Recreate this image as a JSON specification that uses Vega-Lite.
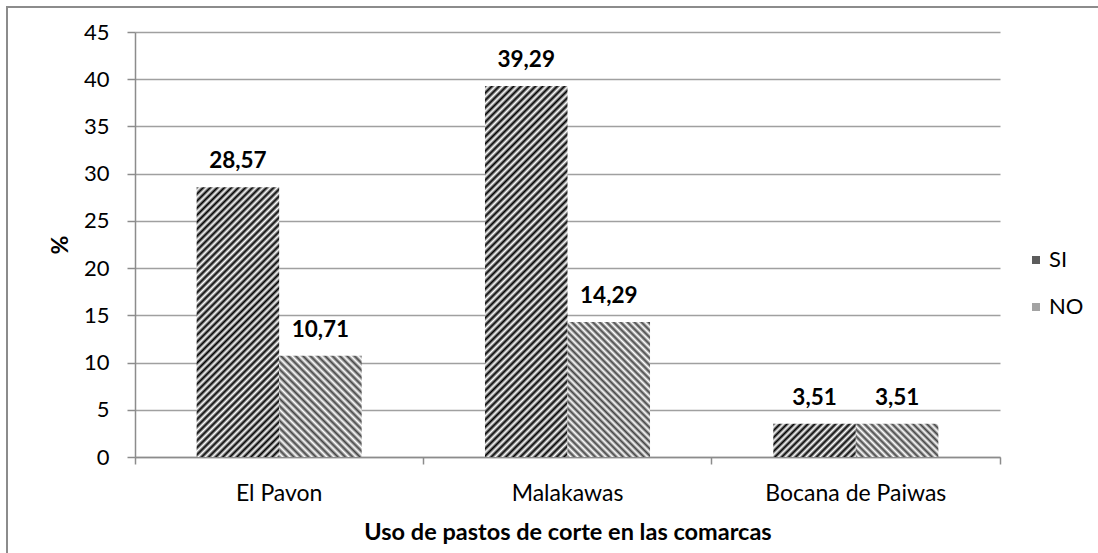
{
  "$schema": "https://vega.github.io/schema/vega-lite/v6.json",
  "width": 1092,
  "height": 547,
  "autosize": "none",
  "padding": {"left": 7, "top": 7, "right": 0, "bottom": 0},
  "background": "white",
  "config": {
    "font": "Lato",
    "locale": {"number": {"decimal": ",", "thousands": ".", "grouping": [3], "currency": ["", " €"]}},
    "view": {"stroke": "#8c8c8c", "strokeWidth": 2}
  },
  "data": {
    "values": [
      {"comarca": "El Pavon", "serie": "SI", "value": 28.57},
      {"comarca": "El Pavon", "serie": "NO", "value": 10.71},
      {"comarca": "Malakawas", "serie": "SI", "value": 39.29},
      {"comarca": "Malakawas", "serie": "NO", "value": 14.29},
      {"comarca": "Bocana de Paiwas", "serie": "SI", "value": 3.51},
      {"comarca": "Bocana de Paiwas", "serie": "NO", "value": 3.51}
    ]
  },
  "encoding": {
    "x": {
      "field": "comarca",
      "type": "nominal",
      "sort": ["El Pavon", "Malakawas", "Bocana de Paiwas"],
      "scale": {"range": [128, 993], "paddingInner": 0, "paddingOuter": 0},
      "title": "Uso de pastos de corte en las comarcas",
      "axis": {
        "offset": -97,
        "bandPosition": 1,
        "tickExtra": true,
        "labelAngle": 0,
        "labelLimit": 0,
        "labelFontSize": 23,
        "labelColor": "#000000",
        "labelPadding": 18,
        "tickSize": 7,
        "tickColor": "#8c8c8c",
        "tickWidth": 1.5,
        "domainColor": "#8c8c8c",
        "domainWidth": 1.5,
        "titleFontSize": 23.5,
        "titleFontWeight": "bold",
        "titleColor": "#000000",
        "titleBaseline": "alphabetic",
        "titleX": 560.5,
        "titleY": 82
      }
    },
    "xOffset": {
      "field": "serie",
      "type": "nominal",
      "sort": ["SI", "NO"],
      "scale": {"paddingInner": 0, "paddingOuter": 0.747}
    },
    "y": {
      "field": "value",
      "type": "quantitative",
      "scale": {"domain": [0, 45], "range": [450, 25]},
      "title": "%",
      "axis": {
        "offset": -128,
        "values": [0, 5, 10, 15, 20, 25, 30, 35, 40, 45],
        "labelFontSize": 22,
        "labelColor": "#000000",
        "labelPadding": 18,
        "tickSize": 8,
        "tickColor": "#8c8c8c",
        "tickWidth": 1.5,
        "domainColor": "#8c8c8c",
        "domainWidth": 1.5,
        "gridColor": "#a0a0a0",
        "gridWidth": 1.5,
        "titleFontSize": 23,
        "titleFontWeight": "bold",
        "titleColor": "#000000",
        "titleX": -75,
        "titleY": 237.5,
        "titleBaseline": "middle"
      }
    }
  },
  "layer": [
    {
      "mark": {"type": "bar"},
      "encoding": {
        "fill": {
          "field": "serie",
          "type": "nominal",
          "sort": ["SI", "NO"],
          "scale": {"range": ["#5c5c5c", "#a3a3a3"]},
          "legend": {
            "title": null,
            "orient": "none",
            "legendX": 1018,
            "legendY": 242,
            "padding": 0,
            "symbolType": "square",
            "symbolSize": 64,
            "symbolStrokeWidth": 0,
            "labelFontSize": 22,
            "labelColor": "#000000",
            "labelOffset": 2,
            "rowPadding": 25
          },
          "condition": [
            {"test": "datum.comarca === 'El Pavon' && datum.serie === 'SI'", "value": {"gradient": "linear", "x1": 0, "y1": 0, "x2": 0.3652, "y2": 1.1941, "stops": [
              {"offset": 0, "color": "#000"}, {"offset": 0.01, "color": "#fff"}, {"offset": 0.02, "color": "#000"}, {"offset": 0.03, "color": "#fff"}, {"offset": 0.04, "color": "#000"},
              {"offset": 0.05, "color": "#fff"}, {"offset": 0.06, "color": "#000"}, {"offset": 0.07, "color": "#fff"}, {"offset": 0.08, "color": "#000"}, {"offset": 0.09, "color": "#fff"},
              {"offset": 0.1, "color": "#000"}, {"offset": 0.11, "color": "#fff"}, {"offset": 0.12, "color": "#000"}, {"offset": 0.13, "color": "#fff"}, {"offset": 0.14, "color": "#000"},
              {"offset": 0.15, "color": "#fff"}, {"offset": 0.16, "color": "#000"}, {"offset": 0.17, "color": "#fff"}, {"offset": 0.18, "color": "#000"}, {"offset": 0.19, "color": "#fff"},
              {"offset": 0.2, "color": "#000"}, {"offset": 0.21, "color": "#fff"}, {"offset": 0.22, "color": "#000"}, {"offset": 0.23, "color": "#fff"}, {"offset": 0.24, "color": "#000"},
              {"offset": 0.25, "color": "#fff"}, {"offset": 0.26, "color": "#000"}, {"offset": 0.27, "color": "#fff"}, {"offset": 0.28, "color": "#000"}, {"offset": 0.29, "color": "#fff"},
              {"offset": 0.3, "color": "#000"}, {"offset": 0.31, "color": "#fff"}, {"offset": 0.32, "color": "#000"}, {"offset": 0.33, "color": "#fff"}, {"offset": 0.34, "color": "#000"},
              {"offset": 0.35, "color": "#fff"}, {"offset": 0.36, "color": "#000"}, {"offset": 0.37, "color": "#fff"}, {"offset": 0.38, "color": "#000"}, {"offset": 0.39, "color": "#fff"},
              {"offset": 0.4, "color": "#000"}, {"offset": 0.41, "color": "#fff"}, {"offset": 0.42, "color": "#000"}, {"offset": 0.43, "color": "#fff"}, {"offset": 0.44, "color": "#000"},
              {"offset": 0.45, "color": "#fff"}, {"offset": 0.46, "color": "#000"}, {"offset": 0.47, "color": "#fff"}, {"offset": 0.48, "color": "#000"}, {"offset": 0.49, "color": "#fff"},
              {"offset": 0.5, "color": "#000"}, {"offset": 0.51, "color": "#fff"}, {"offset": 0.52, "color": "#000"}, {"offset": 0.53, "color": "#fff"}, {"offset": 0.54, "color": "#000"},
              {"offset": 0.55, "color": "#fff"}, {"offset": 0.56, "color": "#000"}, {"offset": 0.57, "color": "#fff"}, {"offset": 0.58, "color": "#000"}, {"offset": 0.59, "color": "#fff"},
              {"offset": 0.6, "color": "#000"}, {"offset": 0.61, "color": "#fff"}, {"offset": 0.62, "color": "#000"}, {"offset": 0.63, "color": "#fff"}, {"offset": 0.64, "color": "#000"},
              {"offset": 0.65, "color": "#fff"}, {"offset": 0.66, "color": "#000"}, {"offset": 0.67, "color": "#fff"}, {"offset": 0.68, "color": "#000"}, {"offset": 0.69, "color": "#fff"},
              {"offset": 0.7, "color": "#000"}, {"offset": 0.71, "color": "#fff"}, {"offset": 0.72, "color": "#000"}, {"offset": 0.73, "color": "#fff"}, {"offset": 0.74, "color": "#000"},
              {"offset": 0.75, "color": "#fff"}, {"offset": 0.76, "color": "#000"}, {"offset": 0.77, "color": "#fff"}, {"offset": 0.78, "color": "#000"}, {"offset": 0.79, "color": "#fff"},
              {"offset": 0.8, "color": "#000"}, {"offset": 0.81, "color": "#fff"}, {"offset": 0.82, "color": "#000"}, {"offset": 0.83, "color": "#fff"}, {"offset": 0.84, "color": "#000"},
              {"offset": 0.85, "color": "#fff"}, {"offset": 0.86, "color": "#000"}, {"offset": 0.87, "color": "#fff"}, {"offset": 0.88, "color": "#000"}, {"offset": 0.89, "color": "#fff"},
              {"offset": 0.9, "color": "#000"}, {"offset": 0.91, "color": "#fff"}, {"offset": 0.92, "color": "#000"}, {"offset": 0.93, "color": "#fff"}, {"offset": 0.94, "color": "#000"},
              {"offset": 0.95, "color": "#fff"}, {"offset": 0.96, "color": "#000"}, {"offset": 0.97, "color": "#fff"}, {"offset": 0.98, "color": "#000"}, {"offset": 0.99, "color": "#fff"},
              {"offset": 1, "color": "#000"}
            ]}},
            {"test": "datum.comarca === 'Malakawas' && datum.serie === 'SI'", "value": {"gradient": "linear", "x1": 0, "y1": 0, "x2": 0.259, "y2": 1.1648, "stops": [
              {"offset": 0, "color": "#000"}, {"offset": 0.008, "color": "#fff"}, {"offset": 0.016, "color": "#000"}, {"offset": 0.024, "color": "#fff"}, {"offset": 0.032, "color": "#000"},
              {"offset": 0.04, "color": "#fff"}, {"offset": 0.048, "color": "#000"}, {"offset": 0.056, "color": "#fff"}, {"offset": 0.064, "color": "#000"}, {"offset": 0.072, "color": "#fff"},
              {"offset": 0.08, "color": "#000"}, {"offset": 0.088, "color": "#fff"}, {"offset": 0.096, "color": "#000"}, {"offset": 0.104, "color": "#fff"}, {"offset": 0.112, "color": "#000"},
              {"offset": 0.12, "color": "#fff"}, {"offset": 0.128, "color": "#000"}, {"offset": 0.136, "color": "#fff"}, {"offset": 0.144, "color": "#000"}, {"offset": 0.152, "color": "#fff"},
              {"offset": 0.16, "color": "#000"}, {"offset": 0.168, "color": "#fff"}, {"offset": 0.176, "color": "#000"}, {"offset": 0.184, "color": "#fff"}, {"offset": 0.192, "color": "#000"},
              {"offset": 0.2, "color": "#fff"}, {"offset": 0.208, "color": "#000"}, {"offset": 0.216, "color": "#fff"}, {"offset": 0.224, "color": "#000"}, {"offset": 0.232, "color": "#fff"},
              {"offset": 0.24, "color": "#000"}, {"offset": 0.248, "color": "#fff"}, {"offset": 0.256, "color": "#000"}, {"offset": 0.264, "color": "#fff"}, {"offset": 0.272, "color": "#000"},
              {"offset": 0.28, "color": "#fff"}, {"offset": 0.288, "color": "#000"}, {"offset": 0.296, "color": "#fff"}, {"offset": 0.304, "color": "#000"}, {"offset": 0.312, "color": "#fff"},
              {"offset": 0.32, "color": "#000"}, {"offset": 0.328, "color": "#fff"}, {"offset": 0.336, "color": "#000"}, {"offset": 0.344, "color": "#fff"}, {"offset": 0.352, "color": "#000"},
              {"offset": 0.36, "color": "#fff"}, {"offset": 0.368, "color": "#000"}, {"offset": 0.376, "color": "#fff"}, {"offset": 0.384, "color": "#000"}, {"offset": 0.392, "color": "#fff"},
              {"offset": 0.4, "color": "#000"}, {"offset": 0.408, "color": "#fff"}, {"offset": 0.416, "color": "#000"}, {"offset": 0.424, "color": "#fff"}, {"offset": 0.432, "color": "#000"},
              {"offset": 0.44, "color": "#fff"}, {"offset": 0.448, "color": "#000"}, {"offset": 0.456, "color": "#fff"}, {"offset": 0.464, "color": "#000"}, {"offset": 0.472, "color": "#fff"},
              {"offset": 0.48, "color": "#000"}, {"offset": 0.488, "color": "#fff"}, {"offset": 0.496, "color": "#000"}, {"offset": 0.504, "color": "#fff"}, {"offset": 0.512, "color": "#000"},
              {"offset": 0.52, "color": "#fff"}, {"offset": 0.528, "color": "#000"}, {"offset": 0.536, "color": "#fff"}, {"offset": 0.544, "color": "#000"}, {"offset": 0.552, "color": "#fff"},
              {"offset": 0.56, "color": "#000"}, {"offset": 0.568, "color": "#fff"}, {"offset": 0.576, "color": "#000"}, {"offset": 0.584, "color": "#fff"}, {"offset": 0.592, "color": "#000"},
              {"offset": 0.6, "color": "#fff"}, {"offset": 0.608, "color": "#000"}, {"offset": 0.616, "color": "#fff"}, {"offset": 0.624, "color": "#000"}, {"offset": 0.632, "color": "#fff"},
              {"offset": 0.64, "color": "#000"}, {"offset": 0.648, "color": "#fff"}, {"offset": 0.656, "color": "#000"}, {"offset": 0.664, "color": "#fff"}, {"offset": 0.672, "color": "#000"},
              {"offset": 0.68, "color": "#fff"}, {"offset": 0.688, "color": "#000"}, {"offset": 0.696, "color": "#fff"}, {"offset": 0.704, "color": "#000"}, {"offset": 0.712, "color": "#fff"},
              {"offset": 0.72, "color": "#000"}, {"offset": 0.728, "color": "#fff"}, {"offset": 0.736, "color": "#000"}, {"offset": 0.744, "color": "#fff"}, {"offset": 0.752, "color": "#000"},
              {"offset": 0.76, "color": "#fff"}, {"offset": 0.768, "color": "#000"}, {"offset": 0.776, "color": "#fff"}, {"offset": 0.784, "color": "#000"}, {"offset": 0.792, "color": "#fff"},
              {"offset": 0.8, "color": "#000"}, {"offset": 0.808, "color": "#fff"}, {"offset": 0.816, "color": "#000"}, {"offset": 0.824, "color": "#fff"}, {"offset": 0.832, "color": "#000"},
              {"offset": 0.84, "color": "#fff"}, {"offset": 0.848, "color": "#000"}, {"offset": 0.856, "color": "#fff"}, {"offset": 0.864, "color": "#000"}, {"offset": 0.872, "color": "#fff"},
              {"offset": 0.88, "color": "#000"}, {"offset": 0.888, "color": "#fff"}, {"offset": 0.896, "color": "#000"}, {"offset": 0.904, "color": "#fff"}, {"offset": 0.912, "color": "#000"},
              {"offset": 0.92, "color": "#fff"}, {"offset": 0.928, "color": "#000"}, {"offset": 0.936, "color": "#fff"}, {"offset": 0.944, "color": "#000"}, {"offset": 0.952, "color": "#fff"},
              {"offset": 0.96, "color": "#000"}, {"offset": 0.968, "color": "#fff"}, {"offset": 0.976, "color": "#000"}, {"offset": 0.984, "color": "#fff"}, {"offset": 0.992, "color": "#000"},
              {"offset": 1, "color": "#fff"}
            ]}},
            {"test": "datum.comarca === 'Bocana de Paiwas' && datum.serie === 'SI'", "value": {"gradient": "linear", "x1": 0, "y1": 0, "x2": 1.2069, "y2": 0.4848, "stops": [
              {"offset": 0, "color": "#000"}, {"offset": 0.03, "color": "#fff"}, {"offset": 0.06, "color": "#000"}, {"offset": 0.09, "color": "#fff"}, {"offset": 0.12, "color": "#000"},
              {"offset": 0.15, "color": "#fff"}, {"offset": 0.18, "color": "#000"}, {"offset": 0.21, "color": "#fff"}, {"offset": 0.24, "color": "#000"}, {"offset": 0.27, "color": "#fff"},
              {"offset": 0.3, "color": "#000"}, {"offset": 0.33, "color": "#fff"}, {"offset": 0.36, "color": "#000"}, {"offset": 0.39, "color": "#fff"}, {"offset": 0.42, "color": "#000"},
              {"offset": 0.45, "color": "#fff"}, {"offset": 0.48, "color": "#000"}, {"offset": 0.51, "color": "#fff"}, {"offset": 0.54, "color": "#000"}, {"offset": 0.57, "color": "#fff"},
              {"offset": 0.6, "color": "#000"}, {"offset": 0.63, "color": "#fff"}, {"offset": 0.66, "color": "#000"}, {"offset": 0.69, "color": "#fff"}, {"offset": 0.72, "color": "#000"},
              {"offset": 0.75, "color": "#fff"}, {"offset": 0.78, "color": "#000"}, {"offset": 0.81, "color": "#fff"}, {"offset": 0.84, "color": "#000"}, {"offset": 0.87, "color": "#fff"},
              {"offset": 0.9, "color": "#000"}, {"offset": 0.93, "color": "#fff"}, {"offset": 0.96, "color": "#000"}, {"offset": 0.99, "color": "#fff"}
            ]}},
            {"test": "datum.comarca === 'El Pavon' && datum.serie === 'NO'", "value": {"gradient": "linear", "x1": 0, "y1": 1, "x2": 0.8894, "y2": -0.0902, "stops": [
              {"offset": 0, "color": "#444"}, {"offset": 0.02, "color": "#fff"}, {"offset": 0.04, "color": "#444"}, {"offset": 0.06, "color": "#fff"}, {"offset": 0.08, "color": "#444"},
              {"offset": 0.1, "color": "#fff"}, {"offset": 0.12, "color": "#444"}, {"offset": 0.14, "color": "#fff"}, {"offset": 0.16, "color": "#444"}, {"offset": 0.18, "color": "#fff"},
              {"offset": 0.2, "color": "#444"}, {"offset": 0.22, "color": "#fff"}, {"offset": 0.24, "color": "#444"}, {"offset": 0.26, "color": "#fff"}, {"offset": 0.28, "color": "#444"},
              {"offset": 0.3, "color": "#fff"}, {"offset": 0.32, "color": "#444"}, {"offset": 0.34, "color": "#fff"}, {"offset": 0.36, "color": "#444"}, {"offset": 0.38, "color": "#fff"},
              {"offset": 0.4, "color": "#444"}, {"offset": 0.42, "color": "#fff"}, {"offset": 0.44, "color": "#444"}, {"offset": 0.46, "color": "#fff"}, {"offset": 0.48, "color": "#444"},
              {"offset": 0.5, "color": "#fff"}, {"offset": 0.52, "color": "#444"}, {"offset": 0.54, "color": "#fff"}, {"offset": 0.56, "color": "#444"}, {"offset": 0.58, "color": "#fff"},
              {"offset": 0.6, "color": "#444"}, {"offset": 0.62, "color": "#fff"}, {"offset": 0.64, "color": "#444"}, {"offset": 0.66, "color": "#fff"}, {"offset": 0.68, "color": "#444"},
              {"offset": 0.7, "color": "#fff"}, {"offset": 0.72, "color": "#444"}, {"offset": 0.74, "color": "#fff"}, {"offset": 0.76, "color": "#444"}, {"offset": 0.78, "color": "#fff"},
              {"offset": 0.8, "color": "#444"}, {"offset": 0.82, "color": "#fff"}, {"offset": 0.84, "color": "#444"}, {"offset": 0.86, "color": "#fff"}, {"offset": 0.88, "color": "#444"},
              {"offset": 0.9, "color": "#fff"}, {"offset": 0.92, "color": "#444"}, {"offset": 0.94, "color": "#fff"}, {"offset": 0.96, "color": "#444"}, {"offset": 0.98, "color": "#fff"},
              {"offset": 1, "color": "#444"}
            ]}},
            {"test": "datum.comarca === 'Malakawas' && datum.serie === 'NO'", "value": {"gradient": "linear", "x1": 0, "y1": 1, "x2": 0.7172, "y2": -0.173, "stops": [
              {"offset": 0, "color": "#444"}, {"offset": 0.016, "color": "#fff"}, {"offset": 0.032, "color": "#444"}, {"offset": 0.048, "color": "#fff"}, {"offset": 0.064, "color": "#444"},
              {"offset": 0.08, "color": "#fff"}, {"offset": 0.096, "color": "#444"}, {"offset": 0.112, "color": "#fff"}, {"offset": 0.128, "color": "#444"}, {"offset": 0.144, "color": "#fff"},
              {"offset": 0.16, "color": "#444"}, {"offset": 0.176, "color": "#fff"}, {"offset": 0.192, "color": "#444"}, {"offset": 0.208, "color": "#fff"}, {"offset": 0.224, "color": "#444"},
              {"offset": 0.24, "color": "#fff"}, {"offset": 0.256, "color": "#444"}, {"offset": 0.272, "color": "#fff"}, {"offset": 0.288, "color": "#444"}, {"offset": 0.304, "color": "#fff"},
              {"offset": 0.32, "color": "#444"}, {"offset": 0.336, "color": "#fff"}, {"offset": 0.352, "color": "#444"}, {"offset": 0.368, "color": "#fff"}, {"offset": 0.384, "color": "#444"},
              {"offset": 0.4, "color": "#fff"}, {"offset": 0.416, "color": "#444"}, {"offset": 0.432, "color": "#fff"}, {"offset": 0.448, "color": "#444"}, {"offset": 0.464, "color": "#fff"},
              {"offset": 0.48, "color": "#444"}, {"offset": 0.496, "color": "#fff"}, {"offset": 0.512, "color": "#444"}, {"offset": 0.528, "color": "#fff"}, {"offset": 0.544, "color": "#444"},
              {"offset": 0.56, "color": "#fff"}, {"offset": 0.576, "color": "#444"}, {"offset": 0.592, "color": "#fff"}, {"offset": 0.608, "color": "#444"}, {"offset": 0.624, "color": "#fff"},
              {"offset": 0.64, "color": "#444"}, {"offset": 0.656, "color": "#fff"}, {"offset": 0.672, "color": "#444"}, {"offset": 0.688, "color": "#fff"}, {"offset": 0.704, "color": "#444"},
              {"offset": 0.72, "color": "#fff"}, {"offset": 0.736, "color": "#444"}, {"offset": 0.752, "color": "#fff"}, {"offset": 0.768, "color": "#444"}, {"offset": 0.784, "color": "#fff"},
              {"offset": 0.8, "color": "#444"}, {"offset": 0.816, "color": "#fff"}, {"offset": 0.832, "color": "#444"}, {"offset": 0.848, "color": "#fff"}, {"offset": 0.864, "color": "#444"},
              {"offset": 0.88, "color": "#fff"}, {"offset": 0.896, "color": "#444"}, {"offset": 0.912, "color": "#fff"}, {"offset": 0.928, "color": "#444"}, {"offset": 0.944, "color": "#fff"},
              {"offset": 0.96, "color": "#444"}, {"offset": 0.976, "color": "#fff"}, {"offset": 0.992, "color": "#444"}
            ]}},
            {"test": "datum.comarca === 'Bocana de Paiwas' && datum.serie === 'NO'", "value": {"gradient": "linear", "x1": 0, "y1": 1, "x2": 1.2069, "y2": 0.5152, "stops": [
              {"offset": 0, "color": "#444"}, {"offset": 0.03, "color": "#fff"}, {"offset": 0.06, "color": "#444"}, {"offset": 0.09, "color": "#fff"}, {"offset": 0.12, "color": "#444"},
              {"offset": 0.15, "color": "#fff"}, {"offset": 0.18, "color": "#444"}, {"offset": 0.21, "color": "#fff"}, {"offset": 0.24, "color": "#444"}, {"offset": 0.27, "color": "#fff"},
              {"offset": 0.3, "color": "#444"}, {"offset": 0.33, "color": "#fff"}, {"offset": 0.36, "color": "#444"}, {"offset": 0.39, "color": "#fff"}, {"offset": 0.42, "color": "#444"},
              {"offset": 0.45, "color": "#fff"}, {"offset": 0.48, "color": "#444"}, {"offset": 0.51, "color": "#fff"}, {"offset": 0.54, "color": "#444"}, {"offset": 0.57, "color": "#fff"},
              {"offset": 0.6, "color": "#444"}, {"offset": 0.63, "color": "#fff"}, {"offset": 0.66, "color": "#444"}, {"offset": 0.69, "color": "#fff"}, {"offset": 0.72, "color": "#444"},
              {"offset": 0.75, "color": "#fff"}, {"offset": 0.78, "color": "#444"}, {"offset": 0.81, "color": "#fff"}, {"offset": 0.84, "color": "#444"}, {"offset": 0.87, "color": "#fff"},
              {"offset": 0.9, "color": "#444"}, {"offset": 0.93, "color": "#fff"}, {"offset": 0.96, "color": "#444"}, {"offset": 0.99, "color": "#fff"}
            ]}}
          ]
        }
      }
    },
    {
      "mark": {"type": "text", "fontWeight": "bold", "fontSize": 22.5, "baseline": "alphabetic", "dy": -19, "color": "#000000"},
      "encoding": {
        "text": {"field": "value", "type": "quantitative", "format": ".2f"}
      }
    }
  ]
}
